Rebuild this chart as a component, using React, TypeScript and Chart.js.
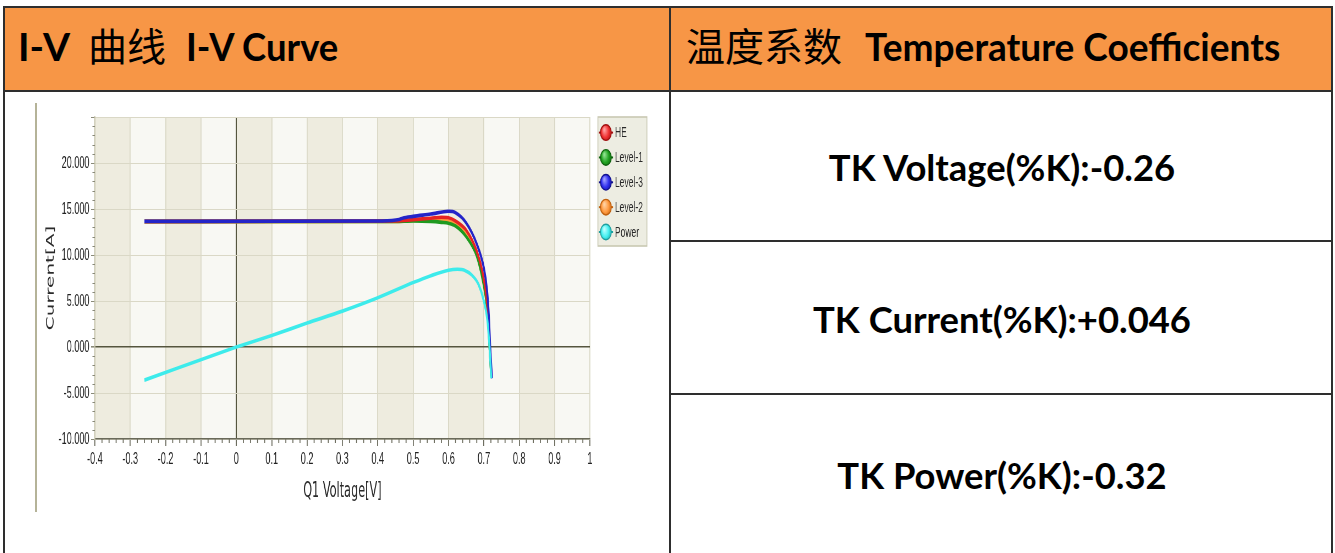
import React, { useEffect, useRef } from 'react';
import { Chart, registerables } from 'chart.js';

Chart.register(...registerables);

// ---------------- data ----------------
const seriesLabels = ['HE', 'Level-1', 'Level-3', 'Level-2', 'Power'];

const heV = [-0.26, 0.45, 0.5, 0.55, 0.58, 0.6, 0.62, 0.65, 0.68, 0.697, 0.707, 0.713, 0.717, 0.722];
const heI = [13.65, 13.7, 13.85, 14.0, 14.1, 14.05, 13.7, 12.7, 10.4, 8.0, 5.5, 3.0, 0.0, -3.3];

const level1V = [-0.26, 0.45, 0.5, 0.55, 0.58, 0.6, 0.62, 0.65, 0.68, 0.693, 0.705, 0.712, 0.716, 0.721];
const level1I = [13.65, 13.65, 13.7, 13.65, 13.55, 13.45, 13.15, 12.0, 9.9, 8.0, 5.5, 3.0, 0.0, -3.2];

const level3V = [-0.26, 0.41, 0.46, 0.47, 0.5, 0.55, 0.6, 0.62, 0.65, 0.68, 0.7, 0.709, 0.714, 0.718, 0.723];
const level3I = [13.65, 13.7, 13.85, 14.0, 14.2, 14.45, 14.75, 14.6, 13.5, 11.2, 8.6, 6.2, 3.5, 0.0, -3.4];

const level2V = [-0.26, 0.45, 0.5, 0.55, 0.6, 0.62, 0.65, 0.68, 0.695, 0.706, 0.712, 0.716, 0.721];
const level2I = [13.6, 13.65, 13.75, 13.8, 13.7, 13.4, 12.3, 10.1, 8.0, 5.5, 3.0, 0.0, -3.2];

const powerV = [-0.26, 0, 0.1, 0.2, 0.3, 0.4, 0.5, 0.55, 0.6, 0.625, 0.645, 0.665, 0.685, 0.7, 0.71, 0.716, 0.721];
const powerP = [-3.6, 0, 1.25, 2.6, 3.9, 5.35, 7.0, 7.75, 8.35, 8.45, 8.35, 7.85, 6.8, 5.0, 2.9, 0.0, -3.4];

const xMin = -0.4;
const xMax = 1;
const xStep = 0.1;
const yMin = -10;
const yMax = 25;
const yStep = 5;

const headerLeft = ['I-V', '曲线', 'I-V Curve'];
const headerRight = ['温度系数', 'Temperature Coefficients'];
const tkLabels = ['TK Voltage(%K):-0.26', 'TK Current(%K):+0.046', 'TK Power(%K):-0.32'];

// ---------------- styles ----------------
const lineColors = ['#E62424', '#1F9A1F', '#2424C8', '#FF9A3C', '#3DEBEB'];
const markerBase = ['#F03232', '#22A322', '#3030EE', '#FF9A40', '#44F0F0'];
const markerLight = ['#FF9C9C', '#8CE08C', '#9C9CFF', '#FFD0A0', '#B8FFFF'];
const markerDark = ['#A01010', '#0E620E', '#10108C', '#C0600E', '#1E9E9E'];
const drawOrder = [2, 3, 1, 4, 0];

const SX = 0.55; // horizontal squeeze of the chart image
const CANVAS_CSS_LEFT = 30;
const CANVAS_CSS_TOP = 96;
const CANVAS_CSS_W = 632;
const CANVAS_H = 420;
const CANVAS_W = Math.round(CANVAS_CSS_W / SX);

const TICK_FONT = "'Liberation Sans', Arial, sans-serif";
const TITLE_FONT = "'DejaVu Sans', Verdana, sans-serif";

const toPoints = (vs: number[], ys: number[]) => vs.map((v, k) => ({ x: v, y: ys[k] }));

const bandsPlugin = {
  id: 'bands',
  beforeDraw(chart: any) {
    const { ctx, chartArea } = chart;
    const x = chart.scales.x;
    const n = Math.round((xMax - xMin) / xStep);
    ctx.save();
    for (let k = 0; k < n; k++) {
      const x0 = x.getPixelForValue(xMin + k * xStep);
      const x1 = x.getPixelForValue(xMin + (k + 1) * xStep);
      ctx.fillStyle = k % 2 === 0 ? '#EEECDF' : '#F8F8F3';
      ctx.fillRect(x0, chartArea.top, x1 - x0, chartArea.bottom - chartArea.top);
    }
    ctx.restore();
  },
};

const minorTicksPlugin = {
  id: 'minorTicks',
  afterDraw(chart: any) {
    const { ctx, chartArea } = chart;
    const x = chart.scales.x;
    const y = chart.scales.y;
    ctx.save();
    ctx.strokeStyle = '#6E6E60';
    ctx.lineWidth = 1.8;
    const nx = Math.round((xMax - xMin) / (xStep / 5));
    for (let k = 0; k <= nx; k++) {
      if (k % 5 === 0) continue;
      const px = x.getPixelForValue(xMin + (k * xStep) / 5);
      ctx.beginPath();
      ctx.moveTo(px, chartArea.bottom);
      ctx.lineTo(px, chartArea.bottom + 4);
      ctx.stroke();
    }
    ctx.strokeStyle = '#8A8A7A';
    ctx.lineWidth = 1;
    const ny = Math.round((yMax - yMin) / (yStep / 5));
    for (let k = 0; k <= ny; k++) {
      if (k % 5 === 0) continue;
      const py = Math.round(y.getPixelForValue(yMin + (k * yStep) / 5)) + 0.5;
      ctx.beginPath();
      ctx.moveTo(chartArea.left, py);
      ctx.lineTo(chartArea.left - 4.5, py);
      ctx.stroke();
    }
    ctx.restore();
  },
};

const legendPlugin = {
  id: 'boxLegend',
  afterDraw(chart: any) {
    const { ctx, chartArea } = chart;
    const bx0 = chartArea.right + 8 / SX;
    const bw = 49 / SX;
    const by0 = chartArea.top;
    const bh = 129;
    ctx.save();
    ctx.fillStyle = '#EDEDE2';
    ctx.fillRect(bx0, by0, bw, bh);
    ctx.strokeStyle = '#C9C8B2';
    ctx.lineWidth = 1.6;
    ctx.strokeRect(bx0, by0, bw, bh);
    chart.data.datasets.forEach((ds: any, i: number) => {
      const cy = by0 + 15.6 + i * 24.85;
      const mx = bx0 + 8 / SX;
      ctx.strokeStyle = markerDark[i];
      ctx.lineWidth = 2;
      ctx.beginPath();
      ctx.moveTo(mx - 13, cy);
      ctx.lineTo(mx + 13, cy);
      ctx.stroke();
      const g = ctx.createRadialGradient(mx - 3, cy - 3, 1, mx, cy, 11);
      g.addColorStop(0, markerLight[i]);
      g.addColorStop(0.55, markerBase[i]);
      g.addColorStop(1, markerDark[i]);
      ctx.fillStyle = g;
      ctx.beginPath();
      ctx.ellipse(mx, cy, 10, 7.8, 0, 0, Math.PI * 2);
      ctx.fill();
      ctx.lineWidth = 1.4;
      ctx.stroke();
      ctx.fillStyle = '#2A2A2A';
      ctx.font = `15.5px ${TICK_FONT}`;
      ctx.textBaseline = 'middle';
      ctx.textAlign = 'left';
      ctx.fillText(ds.label, bx0 + 17 / SX, cy + 0.5);
    });
    ctx.restore();
  },
};

function IVChart() {
  const ref = useRef<HTMLCanvasElement | null>(null);
  useEffect(() => {
    if (!ref.current) return;
    const series = [
      toPoints(heV, heI),
      toPoints(level1V, level1I),
      toPoints(level3V, level3I),
      toPoints(level2V, level2I),
      toPoints(powerV, powerP),
    ];
    const isZero = (c: any) => c && c.tick && Math.abs(c.tick.value) < 1e-9;
    const chart = new Chart(ref.current, {
      type: 'line',
      data: {
        datasets: series.map((d, i) => ({
          label: seriesLabels[i],
          data: d,
          borderColor: lineColors[i],
          backgroundColor: lineColors[i],
          borderWidth: 3.6,
          pointRadius: 0,
          cubicInterpolationMode: 'monotone',
          fill: false,
          order: drawOrder[i],
        })),
      },
      options: {
        animation: false,
        responsive: false,
        maintainAspectRatio: false,
        events: [],
        layout: { padding: { left: 0, top: 21, right: CANVAS_W - 1018, bottom: 0 } },
        plugins: { legend: { display: false }, tooltip: { enabled: false }, title: { display: false } },
        scales: {
          x: {
            type: 'linear',
            min: xMin,
            max: xMax,
            afterFit: (s: any) => {
              s.height = 77;
            },
            ticks: {
              stepSize: xStep,
              autoSkip: false,
              maxRotation: 0,
              padding: 4,
              color: '#222222',
              font: { family: TICK_FONT, size: 16.5 },
              callback: (v: any) => {
                const n = Number(v);
                return Math.abs(n) < 1e-9 ? '0' : String(parseFloat(n.toFixed(1)));
              },
            },
            grid: {
              color: (c: any) => (isZero(c) ? '#55553E' : '#DAD8C6'),
              lineWidth: (c: any) => (isZero(c) ? 2 : 1.8),
              tickColor: '#6E6E60',
              tickLength: 7,
            },
            border: { color: '#6A6A5A', width: 1.6 },
            title: {
              display: true,
              text: 'Q1 Voltage[V]',
              color: '#2A2A2A',
              font: { family: TITLE_FONT, size: 20.5 },
              padding: { top: 0, bottom: 12 },
            },
          },
          y: {
            type: 'linear',
            min: yMin,
            max: yMax,
            afterFit: (s: any) => {
              s.width = 118;
            },
            ticks: {
              stepSize: yStep,
              autoSkip: false,
              padding: 3,
              color: '#222222',
              font: { family: TICK_FONT, size: 16.5 },
              callback: (v: any) => {
                const n = Number(v);
                return n >= yMax - 1e-9 ? '' : n.toFixed(3);
              },
            },
            grid: {
              color: (c: any) => (isZero(c) ? '#55553E' : '#DAD8C6'),
              lineWidth: (c: any) => (isZero(c) ? 1.6 : 1),
              tickColor: '#8A8A78',
              tickLength: 7,
            },
            border: { color: '#C4C2A8', width: 1.8 },
            title: {
              display: true,
              text: 'Current[A]',
              color: '#2A2A2A',
              font: { family: TITLE_FONT, size: 20 },
              padding: { top: 26, bottom: 0 },
            },
          },
        },
      },
      plugins: [bandsPlugin, minorTicksPlugin, legendPlugin],
    } as any);
    return () => chart.destroy();
  }, []);
  return (
    <div
      style={{
        position: 'absolute',
        left: CANVAS_CSS_LEFT,
        top: CANVAS_CSS_TOP,
        width: CANVAS_W,
        height: CANVAS_H,
        transform: `scaleX(${SX})`,
        transformOrigin: '0 0',
      }}
    >
      <canvas ref={ref} width={CANVAS_W} height={CANVAS_H} style={{ display: 'block' }} />
    </div>
  );
}

const LATIN = "Lato, 'Open Sans', sans-serif";
const CJK = "'Noto Sans CJK SC', sans-serif";
const BORDER = '#2E2E2E';

export default function App() {
  const abs = (s: React.CSSProperties): React.CSSProperties => ({ position: 'absolute', ...s });
  const latinText = (fs: number): React.CSSProperties => ({
    fontFamily: LATIN,
    fontWeight: 700,
    fontSize: fs,
    lineHeight: 1,
    whiteSpace: 'nowrap',
    color: '#000',
  });
  const cjkText = (fs: number): React.CSSProperties => ({
    fontFamily: CJK,
    fontWeight: 400,
    fontSize: fs,
    lineHeight: 1,
    whiteSpace: 'nowrap',
    color: '#000',
  });
  const squeeze = (k: number, origin: string): React.CSSProperties => ({
    transform: `scaleX(${k})`,
    transformOrigin: origin,
  });
  const tkBaselines = [181, 333, 489];
  return (
    <div style={abs({ left: 0, top: 0, width: 1335, height: 553, overflow: 'hidden', background: '#fff' })}>
      <div style={abs({ left: 3, top: 6, width: 1330, height: 86, background: '#F79646' })} />
      <div style={abs({ left: 3, top: 6, width: 1330, height: 560, border: `2px solid ${BORDER}`, boxSizing: 'border-box' })} />
      <div style={abs({ left: 3, top: 90, width: 1330, height: 2, background: BORDER })} />
      <div style={abs({ left: 669, top: 6, width: 2, height: 560, background: BORDER })} />
      <div style={abs({ left: 669, top: 240, width: 664, height: 2, background: BORDER })} />
      <div style={abs({ left: 669, top: 393, width: 664, height: 2, background: BORDER })} />

      <div style={abs({ left: 18, top: 62 - 0.887 * 39, ...latinText(39) })}>{headerLeft[0]}</div>
      <div style={abs({ left: 88, top: 62 - 0.936 * 39, ...cjkText(39) })}>{headerLeft[1]}</div>
      <div style={abs({ left: 186, top: 62 - 0.887 * 39, ...latinText(39), ...squeeze(0.935, '0 50%') })}>
        {headerLeft[2]}
      </div>

      <div style={abs({ left: 686, top: 62 - 0.936 * 39, ...cjkText(39) })}>{headerRight[0]}</div>
      <div style={abs({ left: 865, top: 62 - 0.887 * 39, ...latinText(39), ...squeeze(0.95, '0 50%') })}>
        {headerRight[1]}
      </div>

      {tkLabels.map((t, i) => (
        <div
          key={t}
          style={abs({
            left: 671,
            width: 662,
            textAlign: 'center',
            top: tkBaselines[i] - 0.887 * 37,
            ...latinText(37),
            ...squeeze(0.983, '50% 50%'),
          })}
        >
          {t}
        </div>
      ))}

      <div style={abs({ left: 35, top: 103, width: 1.5, height: 409, background: '#B5B398' })} />
      <IVChart />
    </div>
  );
}
